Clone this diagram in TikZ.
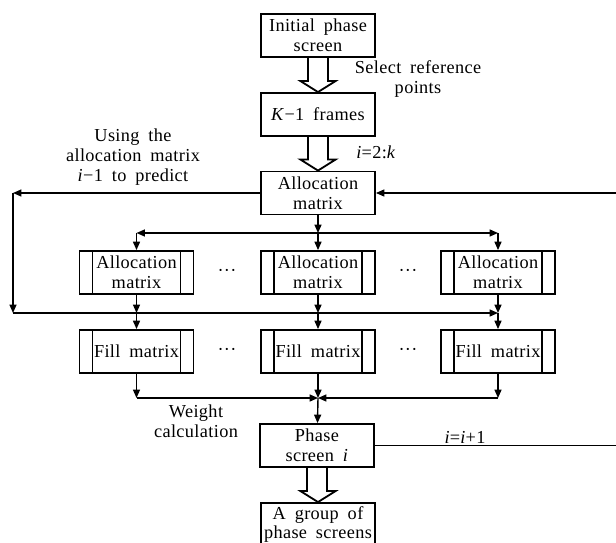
\documentclass[tikz,border=0pt]{standalone}
\usepackage{fontspec}
\setmainfont{Liberation Serif}[LetterSpace=2, WordSpace=1.8]
\usetikzlibrary{arrows.meta,calc}

\begin{document}
\begin{tikzpicture}[x = 0.025cm, y = -0.025cm, font = \fontsize{13}{14.2}\selectfont,
	box/.style = {draw, line width = 1.3pt, minimum width = 2.85cm, minimum height = 1.075cm, inner sep = 0pt, align = center},
	sub/.style = {box, path picture = {
		\draw[line width = 1.2pt] ([xshift = 0.325cm]path picture bounding box.north west) -- ([xshift = 0.325cm]path picture bounding box.south west);
		\draw[line width = 1.2pt] ([xshift = -0.325cm]path picture bounding box.north east) -- ([xshift = -0.325cm]path picture bounding box.south east);}},
	conn/.style = {line width = 1pt, -{Triangle[length = 6pt, width = 5pt]}},
	hollow/.style = {line width = 1.3pt, line join = miter}]
	\useasboundingbox (0, 0) rectangle (616, 543);
	
	\node[box] (init) at (318, 35.5) {Initial phase\\screen};
	\node[box] (frames) at (318, 114.5) {\textit{K}−1 frames};
	\node[box] (alloc) at (318, 193) {Allocation\\matrix};
	\node[sub] (a1) at (136.5, 272.5) {Allocation\\matrix};
	\node[sub] (a2) at (318, 272.5) {Allocation\\matrix};
	\node[sub] (a3) at (498, 272.5) {Allocation\\matrix};
	\node[sub] (f1) at (136.5, 351.5) {Fill matrix};
	\node[sub] (f2) at (318, 351.5) {Fill matrix};
	\node[sub] (f3) at (498, 351.5) {Fill matrix};
	\node[box] (phase) at (317, 445.5) {Phase\\screen \textit{i}};
	\node[box] (group) at (318, 524.5) {A group of\\phase screens};
	
	\node (dots1) at (227, 272.5) {···};
	\node (dots2) at (408, 272.5) {···};
	\node (dots3) at (227, 351.5) {···};
	\node (dots4) at (408, 351.5) {···};
	
	\node[align = center] (select) at (418, 79) {Select reference\\points};
	\node (istep) at (376, 152) {\textit{i}=2:\textit{k}};
	\node[align = center] (using) at (133, 157) {Using the\\allocation matrix\\\textit{i}−1 to predict};
	\node[align = center] (weight) at (196, 421) {Weight\\calculation};
	\node (inext) at (465, 437) {\textit{i}=\textit{i}+1};
	
	\foreach \s/\t in {init/frames, frames/alloc, phase/group}
		\draw[hollow] ($(\s.south)+(-10, 0)$) |- ($(\t.north)+(-17.5, -11)$) -- (\t.north)
			-- ($(\t.north)+(17.5, -11)$) -| ($(\s.south)+(10, 0)$);
	
	\coordinate (j1) at (318, 233);
	\coordinate (j2) at (13, 313);
	\coordinate (j3) at (318, 398);
	\coordinate (l1) at (alloc.west -| j2);
	\coordinate (r1) at (alloc.east -| 617, 0);
	\coordinate (r2) at (phase.east -| r1);
	
	\draw[conn] (alloc) -- (j1);
	\draw[conn] (j1) -- (a2);
	\draw[conn] (j1) -- (a1 |- j1);
	\draw[conn] (a1 |- j1) -- (a1);
	\draw[conn] (j1) -- (a3 |- j1);
	\draw[conn] (a3 |- j1) -- (a3);
	
	\draw[conn] (alloc) -- (l1);
	\draw[conn] (l1) -- (j2);
	\draw[conn] (j2) -- (a3 |- j2);
	\foreach \n in {1, 2, 3} {
		\draw[conn] (a\n) -- (a\n |- j2);
		\draw[conn] (a\n |- j2) -- (f\n);
	}
	
	\draw[conn] (f1) -- (f1 |- j3);
	\draw[conn] (f1 |- j3) -- (j3);
	\draw[conn] (f3) -- (f3 |- j3);
	\draw[conn] (f3 |- j3) -- (j3);
	\draw[conn] (f2) -- (j3);
	\draw[conn] (j3) -- (phase);
	
	\draw[line width = 1pt] (phase) -- (r2) -- (r1);
	\draw[conn] (r1) -- (alloc);
\end{tikzpicture}
\end{document}
